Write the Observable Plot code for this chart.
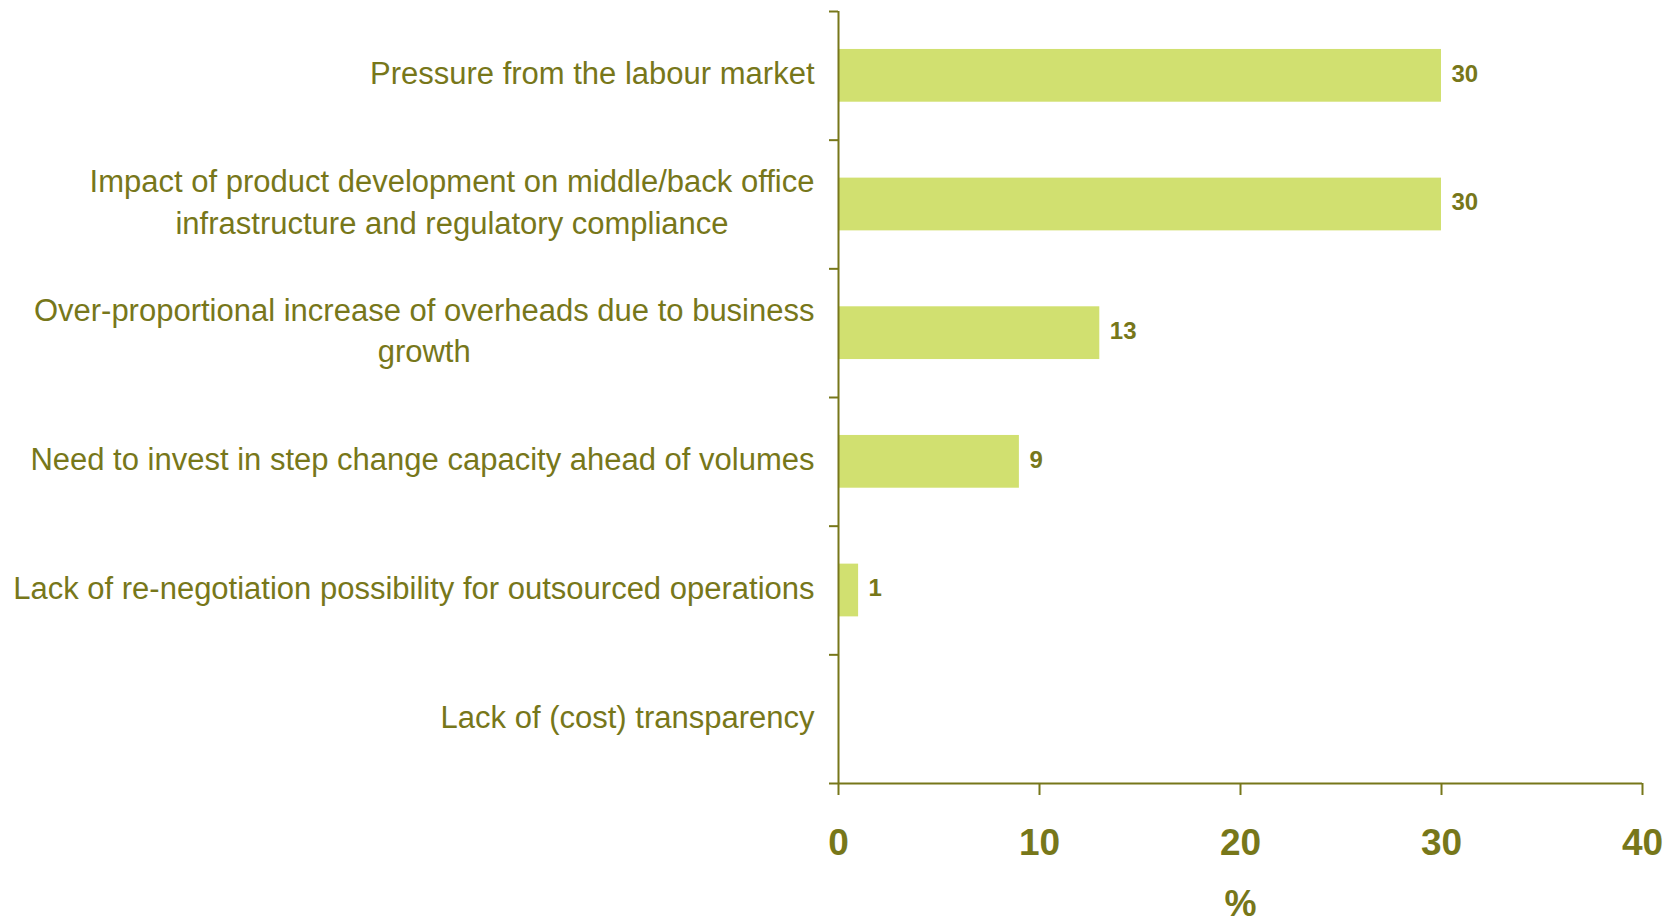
<!DOCTYPE html>
<html>
<head>
<meta charset="utf-8">
<script src="https://cdn.jsdelivr.net/npm/d3@7"></script>
<script src="https://cdn.jsdelivr.net/npm/@observablehq/plot@0.6"></script>
<style>
  html, body { margin: 0; padding: 0; background: #ffffff; }
  #chart svg { display: block; }
</style>
</head>
<body>
<div id="chart"></div>
<script>
const categories = [
  "Pressure from the labour market",
  "Impact of product development on middle/back office\ninfrastructure and regulatory compliance",
  "Over-proportional increase of overheads due to business\ngrowth",
  "Need to invest in step change capacity ahead of volumes",
  "Lack of re-negotiation possibility for outsourced operations",
  "Lack of (cost) transparency"
];
const values = [30, 30, 13, 9, 1, 0];
const valueLabels = ["30", "30", "13", "9", "1", ""];
const xTicks = [0, 10, 20, 30, 40];
const xLabel = "%";

const olive = "#77771a";
const barColor = "#d1e070";
const fontFamily = "'Liberation Sans', Arial, sans-serif";

const data = categories.map((c, i) => ({i, category: c, value: values[i], label: valueLabels[i]}));

const plot = Plot.plot({
  width: 1679,
  height: 924,
  marginLeft: 838,
  marginRight: 37,
  marginTop: 11,
  marginBottom: 141,
  style: {fontFamily, color: olive, background: "#ffffff"},
  x: {domain: [0, 40]},
  y: {domain: [0, categories.length], reverse: true},
  marks: [
    Plot.rectX(data, {x1: 0, x2: "value", y1: d => d.i + 0.295, y2: d => d.i + 0.705, fill: barColor}),
    Plot.ruleX([0], {stroke: olive, strokeWidth: 2}),
    Plot.ruleY([categories.length], {stroke: olive, strokeWidth: 2}),
    Plot.axisY({ticks: d3.range(0, categories.length + 1), tickSize: 9, tickFormat: () => "", stroke: olive, strokeWidth: 2, label: null}),
    Plot.axisX({ticks: xTicks, tickSize: 12, tickPadding: 33, fontSize: 37, fontWeight: "bold", stroke: olive, strokeWidth: 2, fill: olive, label: null}),
    Plot.text(data, {x: 0, y: d => d.i + 0.5, text: "category", textAnchor: "end", dx: -24, dy: -5, fontSize: 31, lineHeight: 1.35, fill: olive}),
    Plot.text(data.filter(d => d.label !== ""), {x: "value", y: d => d.i + 0.5, text: "label", textAnchor: "start", dx: 10, dy: -2, fontSize: 24, fontWeight: "bold", fill: olive}),
    Plot.text([xLabel], {frameAnchor: "bottom", dy: 132, fontSize: 36, fontWeight: "bold", fill: olive})
  ]
});

document.getElementById("chart").appendChild(plot);

// Center-align the lines of multi-line category labels within their block
const catGroup = plot.querySelectorAll('g[aria-label="text"]')[0];
if (catGroup) {
  catGroup.querySelectorAll("text").forEach(t => {
    const spans = t.querySelectorAll("tspan");
    if (spans.length > 1) {
      let maxW = 0;
      spans.forEach(s => { maxW = Math.max(maxW, s.getComputedTextLength()); });
      t.setAttribute("text-anchor", "middle");
      spans.forEach(s => s.setAttribute("x", -maxW / 2));
    }
  });
}
</script>
</body>
</html>
